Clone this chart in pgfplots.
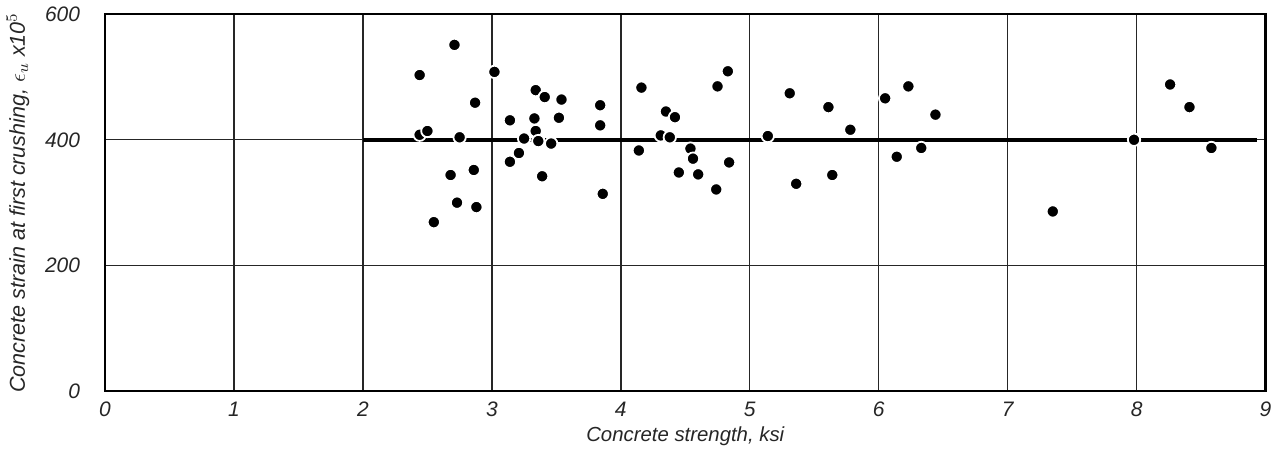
\documentclass[border=0pt]{standalone}
\usepackage{pgfplots}
\pgfplotsset{compat=1.18}
\usepackage{fontspec}
\setmainfont{Liberation Sans}
\begin{document}
\begin{tikzpicture}[x=1pt,y=1pt]
\begin{axis}[
  scale only axis,
  width=581.5pt, height=189pt,
  xmin=0, xmax=9, ymin=0, ymax=600,
  xtick={0,...,9}, ytick={0,200,400,600},
  grid=major,
  major grid style={black!85, line width=0.7pt},
  axis line style={black, line width=1.1pt},
  major tick length=0pt,
  /pgf/number format/assume math mode=true,
  ticklabel style={font=\itshape\fontsize{10.5}{12}\selectfont, text=black!85},
  xticklabel style={yshift=-2pt},
  yticklabel style={xshift=-9pt},
  xlabel={Concrete strength, ksi},
  ylabel={Concrete strain at first crushing, $\epsilon_u$ x10$^5$},
  xlabel style={font=\itshape\fontsize{10.2}{12}\selectfont, text=black!85, yshift=2pt},
  ylabel style={font=\itshape\fontsize{10.8}{12}\selectfont, text=black!85, yshift=1pt},
  clip=false,
]
\addplot[black, line width=1.8pt] coordinates {(2,400) (8.93,400)};
\addplot[only marks, mark=*, mark size=3.1pt, mark options={fill=black, draw=white, line width=0.9pt}] coordinates {
(2.71,551) (2.44,503) (3.02,508) (2.87,459) (2.44,408) (2.50,414) (2.75,404)
(2.68,344) (2.86,352) (2.73,300) (2.88,293) (2.55,269)
(3.34,479) (3.41,468) (3.54,464) (3.14,431) (3.33,434) (3.52,435) (3.34,414)
(3.25,402) (3.36,398) (3.46,394) (3.21,379) (3.14,365) (3.39,342)
(3.84,455) (3.84,423) (3.86,314)
(4.16,483) (4.35,445) (4.42,436) (4.31,407) (4.38,404) (4.14,383)
(4.54,386) (4.56,370) (4.45,348) (4.60,345) (4.74,321) (4.84,364) (4.75,485) (4.83,509)
(5.14,406) (5.31,474) (5.36,330) (5.61,452) (5.64,344) (5.78,416)
(6.05,466) (6.23,485) (6.44,440) (6.14,373) (6.33,387)
(7.35,286) (7.98,400) (8.26,488) (8.41,452) (8.58,387)
};
\end{axis}
\end{tikzpicture}
\end{document}
